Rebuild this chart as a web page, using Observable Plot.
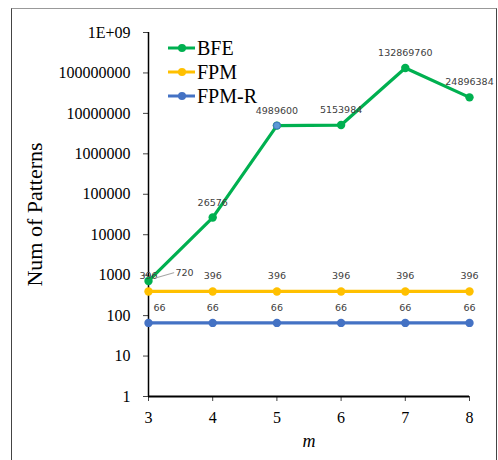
<!DOCTYPE html>
<html>
<head>
<meta charset="utf-8">
<script src="https://cdn.jsdelivr.net/npm/d3@7"></script>
<script src="https://cdn.jsdelivr.net/npm/@observablehq/plot@0.6"></script>
<style>
  html, body { margin: 0; padding: 0; background: #fff; overflow: hidden; }
  #wrap { position: relative; width: 498px; height: 460px; overflow: hidden; background: #fff; }
  #frame { position: absolute; left: 11px; top: 8px; width: 486px; height: 470px;
           border-left: 1px solid #444; border-right: 1px solid #444; border-top: 1px solid #999; box-sizing: border-box; }
  #chart { position: absolute; left: 0; top: 0; }
  #legend { position: absolute; left: 168px; top: 36px; font-family: "Liberation Serif", "Times New Roman", serif; font-size: 20px; color: #000; }
  #legend .row { display: flex; align-items: center; height: 24px; }
  #legend svg { margin-right: 2px; }
</style>
</head>
<body>
<div id="wrap">
  <div id="frame"></div>
  <div id="chart"></div>
  <div id="legend"></div>
</div>
<script>
const mValues = [3, 4, 5, 6, 7, 8];
const seriesNames = ["BFE", "FPM", "FPM-R"];
const seriesColors = ["#00b050", "#ffc000", "#4472c4"];
const bfe = [720, 26576, 4989600, 5153984, 132869760, 24896384];
const fpm = [396, 396, 396, 396, 396, 396];
const fpmR = [66, 66, 66, 66, 66, 66];
const yTicks = [1, 10, 100, 1000, 10000, 100000, 1000000, 10000000, 100000000, 1000000000];
const yTickLabels = ["1", "10", "100", "1000", "10000", "100000", "1000000", "10000000", "100000000", "1E+09"];
const yTitle = "Num of Patterns";
const xTitle = "m";

const seriesValues = [bfe, fpm, fpmR];
const rows = [];
seriesNames.forEach((s, si) => {
  mValues.forEach((m, i) => rows.push({ s, m, v: seriesValues[si][i] }));
});
const order = ["FPM-R", "FPM", "BFE"];
const drawRows = order.flatMap(s => rows.filter(r => r.s === s));

const serif = "Liberation Serif, Times New Roman, serif";
const labelFont = { fontFamily: "DejaVu Sans", fontSize: 9.5, fill: "#404040" };
const normalLabels = rows.filter(r => !(r.m === mValues[0] && (r.s === "BFE" || r.s === "FPM-R")));
const bfeFirst = rows.filter(r => r.m === mValues[0] && r.s === "BFE");
const fpmRFirst = rows.filter(r => r.m === mValues[0] && r.s === "FPM-R");
const oddDot = rows.filter(r => r.s === "BFE" && r.m === 5);

const leader = {
  draw(context, l) { context.moveTo(0, 0); context.lineTo(0, -l); }
};

const chart = Plot.plot({
  width: 498,
  height: 460,
  marginLeft: 148,
  marginRight: 29,
  marginTop: 32,
  marginBottom: 64,
  style: { fontFamily: serif, fontSize: "16px", color: "#000", background: "transparent", overflow: "visible" },
  x: { type: "linear", domain: [mValues[0], mValues[mValues.length - 1]] },
  y: { type: "log", domain: [yTicks[0], yTicks[yTicks.length - 1]] },
  color: { domain: seriesNames, range: seriesColors },
  marks: [
    Plot.axisY({ ticks: yTicks, tickFormat: (d) => yTickLabels[yTicks.indexOf(d)], tickSize: 5, tickPadding: 13, label: null, fontSize: 16, fontFamily: serif, stroke: "#444" }),
    Plot.axisX({ ticks: mValues, tickFormat: d => String(d), tickSize: 5, tickPadding: 10, label: null, fontSize: 16, fontFamily: serif, stroke: "#444" }),
    Plot.ruleX([mValues[0]], { stroke: "#000", strokeWidth: 1.5 }),
    Plot.ruleY([yTicks[0]], { stroke: "#000", strokeWidth: 2 }),
    Plot.text([yTitle], { frameAnchor: "left", textAnchor: "middle", lineAnchor: "middle", dx: -114, rotate: -90, fontSize: 22, fontFamily: serif, fill: "#000" }),
    Plot.text([xTitle], { frameAnchor: "bottom", textAnchor: "middle", lineAnchor: "middle", dy: 45, fontSize: 18, fontStyle: "italic", fontFamily: serif, fill: "#000" }),
    Plot.line(drawRows, { x: "m", y: "v", z: "s", stroke: "s", strokeWidth: 3.2 }),
    Plot.dot(drawRows, { x: "m", y: "v", fill: "s", r: 4.2 }),
    Plot.dot(oddDot, { x: "m", y: "v", fill: "#5b9bd5", stroke: "#4472c4", strokeWidth: 1, r: 3.5 }),
    Plot.text(normalLabels, { x: "m", y: "v", text: d => String(d.v), dy: -15, ...labelFont }),
    Plot.text(fpmRFirst, { x: "m", y: "v", text: d => String(d.v), dy: -15, dx: 11, ...labelFont }),
    Plot.text(bfeFirst, { x: "m", y: "v", text: d => String(d.v), dy: -8, dx: 36, ...labelFont }),
    Plot.vector(bfeFirst, { x: "m", y: "v", dx: 7, dy: -3, length: 19, rotate: 74, anchor: "start", shape: leader, stroke: "#a6a6a6", strokeWidth: 1 })
  ]
});
document.getElementById("chart").appendChild(chart);

const legend = document.getElementById("legend");
seriesNames.forEach((name, i) => {
  const row = document.createElement("div");
  row.className = "row";
  row.innerHTML = `<svg width="27" height="10"><line x1="0" x2="27" y1="5" y2="5" stroke="${seriesColors[i]}" stroke-width="3"/><circle cx="14" cy="5" r="4" fill="${seriesColors[i]}"/></svg><span>${name}</span>`;
  legend.appendChild(row);
});
</script>
</body>
</html>
